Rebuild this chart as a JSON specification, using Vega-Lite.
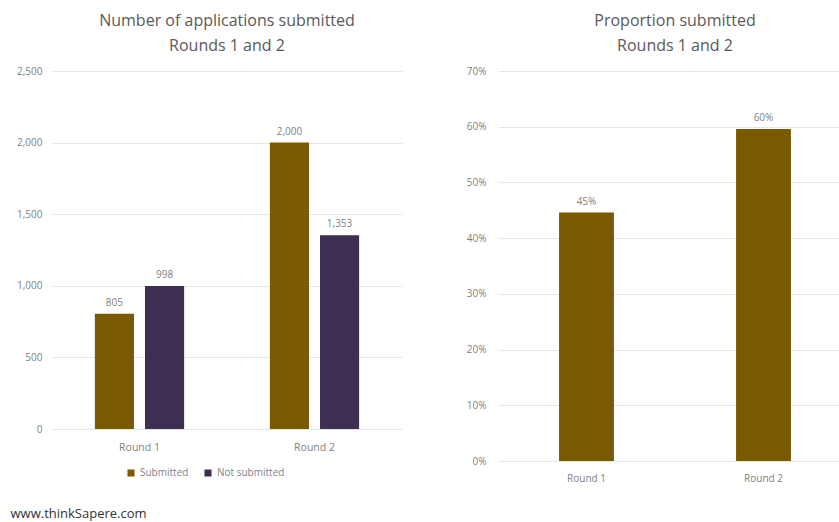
{
  "$schema": "https://vega.github.io/schema/vega-lite/v6.json",
  "padding": {"left": 10, "top": 13, "right": 0, "bottom": 2},
  "background": "white",
  "spacing": 64,
  "title": {"text": "www.thinkSapere.com", "orient": "bottom", "anchor": "start", "fontSize": 13, "fontWeight": "normal", "color": "#333333", "font": "Open Sans", "offset": 25, "dx": -6},
  "config": {
    "font": "Open Sans",
    "view": {"stroke": null},
    "axis": {"labelColor": "#7f7f7f", "labelFontSize": 10, "domain": false, "ticks": false, "gridColor": "#e6e6e6", "titleColor": "#595959"},
    "title": {"fontSize": 16, "fontWeight": "normal", "color": "#595959", "lineHeight": 25, "offset": 12}
  },
  "datasets": {
    "counts": [
      {"round": "Round 1", "status": "Submitted", "count": 805},
      {"round": "Round 1", "status": "Not submitted", "count": 998},
      {"round": "Round 2", "status": "Submitted", "count": 2000},
      {"round": "Round 2", "status": "Not submitted", "count": 1353}
    ],
    "props": [
      {"round": "Round 1", "proportion": 0.446},
      {"round": "Round 2", "proportion": 0.596}
    ]
  },
  "hconcat": [
    {
      "width": 350,
      "height": 358,
      "title": {"text": ["Number of applications submitted", "Rounds 1 and 2"]},
      "data": {"name": "counts"},
      "encoding": {
        "x": {"field": "round", "type": "nominal", "title": null,
              "scale": {"paddingInner": 0.49, "paddingOuter": 0.245},
              "axis": {"labelAngle": 0, "labelPadding": 13, "labelFontSize": 10.5}},
        "xOffset": {"field": "status", "type": "nominal", "sort": ["Submitted", "Not submitted"], "scale": {"paddingInner": 0.22}},
        "y": {"field": "count", "type": "quantitative", "title": null,
              "scale": {"domain": [0, 2500]},
              "axis": {"values": [0, 500, 1000, 1500, 2000, 2500], "format": ",d", "labelPadding": 10, "grid": true}}
      },
      "layer": [
        {
          "mark": {"type": "bar"},
          "encoding": {
            "color": {"field": "status", "type": "nominal", "sort": ["Submitted", "Not submitted"],
                      "scale": {"domain": ["Submitted", "Not submitted"], "range": ["#7a5a00", "#3e2f52"]},
                      "legend": {"orient": "none", "legendX": 74, "legendY": 397, "direction": "horizontal", "title": null, "symbolType": "square", "symbolSize": 50, "labelFontSize": 10, "labelColor": "#7f7f7f", "columnPadding": 14}}
          }
        },
        {
          "mark": {"type": "text", "dy": -11, "fontSize": 10, "color": "#7f7f7f"},
          "encoding": {"text": {"field": "count", "type": "quantitative", "format": ",d"}}
        }
      ]
    },
    {
      "width": 354,
      "height": 390,
      "title": {"text": ["Proportion submitted", "Rounds 1 and 2"]},
      "data": {"name": "props"},
      "encoding": {
        "x": {"field": "round", "type": "nominal", "title": null,
              "scale": {"paddingInner": 0.69, "paddingOuter": 0.345},
              "axis": {"labelAngle": 0, "labelPadding": 12, "labelFontSize": 10}},
        "y": {"field": "proportion", "type": "quantitative", "title": null,
              "scale": {"domain": [0, 0.7]},
              "axis": {"values": [0, 0.1, 0.2, 0.3, 0.4, 0.5, 0.6, 0.7], "format": ".0%", "labelPadding": 12, "grid": true}}
      },
      "layer": [
        {"mark": {"type": "bar", "color": "#7a5a00"}},
        {
          "mark": {"type": "text", "dy": -11, "fontSize": 10, "color": "#7f7f7f"},
          "encoding": {"text": {"field": "proportion", "type": "quantitative", "format": ".0%"}}
        }
      ]
    }
  ]
}
